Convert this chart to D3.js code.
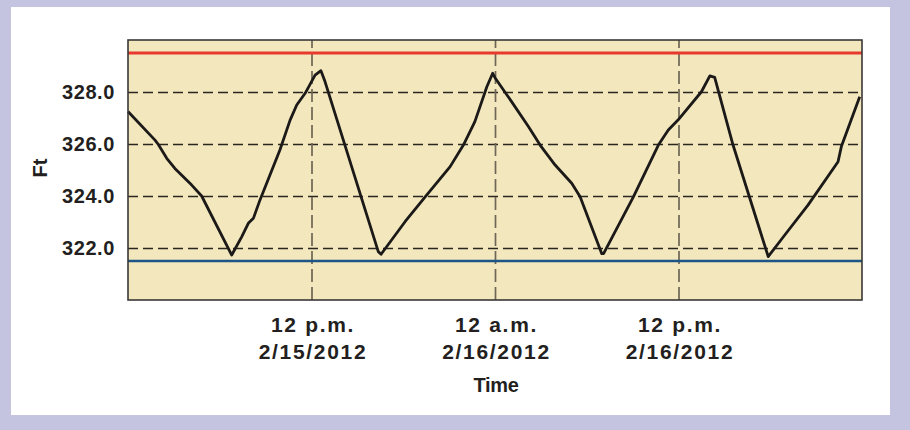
<!DOCTYPE html>
<html>
<head>
<meta charset="utf-8">
<script src="https://cdn.jsdelivr.net/npm/d3@7"></script>
<style>
  html, body { margin: 0; padding: 0; background: #c4c4e0; }
  svg { display: block; }
  .lbl { font-family: "Liberation Sans", Arial, sans-serif; font-weight: bold; fill: #231f20; }
</style>
</head>
<body>
<div id="chart"></div>
<script>
// water level readings (time, ft)
var times = [
  "2012-02-15 00:00", "2012-02-15 01:46", "2012-02-15 01:59", "2012-02-15 02:32",
  "2012-02-15 03:04", "2012-02-15 04:10", "2012-02-15 04:49", "2012-02-15 06:47",
  "2012-02-15 07:26", "2012-02-15 07:52", "2012-02-15 08:12", "2012-02-15 08:38",
  "2012-02-15 09:56", "2012-02-15 10:36", "2012-02-15 11:02", "2012-02-15 11:35",
  "2012-02-15 12:14", "2012-02-15 12:37", "2012-02-15 12:53", "2012-02-15 16:22",
  "2012-02-15 16:33", "2012-02-15 18:07", "2012-02-15 19:26", "2012-02-15 21:04",
  "2012-02-15 21:56", "2012-02-15 22:41", "2012-02-15 23:28", "2012-02-15 23:51",
  "2012-02-16 00:00", "2012-02-16 01:05", "2012-02-16 02:11", "2012-02-16 02:57",
  "2012-02-16 03:56", "2012-02-16 05:01", "2012-02-16 05:34", "2012-02-16 06:59",
  "2012-02-16 07:06", "2012-02-16 09:03", "2012-02-16 10:41", "2012-02-16 11:20",
  "2012-02-16 11:58", "2012-02-16 13:30", "2012-02-16 14:03", "2012-02-16 14:22",
  "2012-02-16 15:34", "2012-02-16 17:52", "2012-02-16 18:57", "2012-02-16 20:28",
  "2012-02-16 22:26", "2012-02-16 22:39", "2012-02-16 23:51"
];
var levels = [
  327.25, 326.15, 325.98, 325.45,
  325.06, 324.42, 324.00, 321.73,
  322.43, 322.95, 323.14, 323.85,
  325.77, 326.92, 327.50, 327.95,
  328.65, 328.82, 328.40, 321.86,
  321.76, 323.01, 323.97, 325.13,
  325.96, 326.86, 328.20, 328.72,
  328.55, 327.63, 326.67, 325.96,
  325.19, 324.49, 323.97, 321.78,
  321.78, 323.97, 325.96, 326.54,
  326.92, 328.01, 328.62, 328.56,
  325.96, 321.67, 322.50, 323.65,
  325.32, 325.90, 327.82
];

var timeRange = ["2012-02-15 00:00", "2012-02-17 00:00"];
var levelRange = [320, 330];
var upperLimit = 329.5;
var lowerLimit = 321.5;

var yTicks = [322, 324, 326, 328];
var xTicks = ["2012-02-15 12:00", "2012-02-16 00:00", "2012-02-16 12:00"];
var xTickLines = [["12 p.m.", "2/15/2012"], ["12 a.m.", "2/16/2012"], ["12 p.m.", "2/16/2012"]];

var parse = d3.timeParse("%Y-%m-%d %H:%M");

var W = 910, H = 430;
var margin = { left: 128, right: 48, top: 40, bottom: 130 };
var width = W - margin.left - margin.right;
var height = H - margin.top - margin.bottom;

var svg = d3.select("#chart").append("svg")
  .attr("width", W)
  .attr("height", H);

// white panel
svg.append("rect")
  .attr("x", 11).attr("y", 7)
  .attr("width", 879).attr("height", 408)
  .attr("fill", "#ffffff");

var g = svg.append("g")
  .attr("transform", "translate(" + margin.left + "," + margin.top + ")");

var x = d3.scaleTime()
  .domain(timeRange.map(parse))
  .range([0, width]);

var y = d3.scaleLinear()
  .domain(levelRange)
  .range([height, 0]);

// plot background
g.append("rect")
  .attr("width", width)
  .attr("height", height)
  .attr("fill", "#f3e7bd");

// horizontal grid
var yGrid = g.append("g")
  .call(d3.axisLeft(y).tickValues(yTicks).tickSize(-width).tickFormat(""));
yGrid.select(".domain").remove();
yGrid.selectAll("line")
  .attr("stroke", "#2a2620")
  .attr("stroke-width", 1.4)
  .attr("stroke-dasharray", "10,5");

// vertical grid
var xGrid = g.append("g")
  .attr("transform", "translate(0," + height + ")")
  .call(d3.axisBottom(x).tickValues(xTicks.map(parse)).tickSize(-height).tickFormat(""));
xGrid.select(".domain").remove();
xGrid.selectAll("line")
  .attr("stroke", "#6e6656")
  .attr("stroke-width", 1.7)
  .attr("stroke-dasharray", "13,5");

// limit lines
g.append("line")
  .attr("x1", 0).attr("x2", width)
  .attr("y1", y(upperLimit)).attr("y2", y(upperLimit))
  .attr("stroke", "#e8392f")
  .attr("stroke-width", 2.8);
g.append("line")
  .attr("x1", 0).attr("x2", width)
  .attr("y1", y(lowerLimit)).attr("y2", y(lowerLimit))
  .attr("stroke", "#1d5686")
  .attr("stroke-width", 2.6);

// level line
var points = times.map(function (t, i) { return { t: parse(t), v: levels[i] }; });
var line = d3.line()
  .x(function (d) { return x(d.t); })
  .y(function (d) { return y(d.v); });
g.append("path")
  .datum(points)
  .attr("d", line)
  .attr("fill", "none")
  .attr("stroke", "#1c1a18")
  .attr("stroke-width", 2.8)
  .attr("stroke-linejoin", "round");

// plot border
g.append("rect")
  .attr("width", width)
  .attr("height", height)
  .attr("fill", "none")
  .attr("stroke", "#3a3836")
  .attr("stroke-width", 1.6);

// y axis labels
var yAxis = g.append("g")
  .call(d3.axisLeft(y).tickValues(yTicks).tickSize(0).tickPadding(13).tickFormat(d3.format(".1f")));
yAxis.select(".domain").remove();
yAxis.selectAll("text")
  .attr("class", "lbl")
  .style("font-size", "20px")
  .style("letter-spacing", "0.6px");

// x axis labels, two lines each
var xAxis = g.append("g")
  .attr("transform", "translate(0," + height + ")")
  .call(d3.axisBottom(x).tickValues(xTicks.map(parse)).tickSize(0).tickFormat(""));
xAxis.select(".domain").remove();
xAxis.selectAll(".tick text").remove();
xAxis.selectAll(".tick").each(function (d, i) {
  var txt = d3.select(this).append("text")
    .attr("class", "lbl")
    .attr("text-anchor", "middle")
    .style("font-size", "21px")
    .style("letter-spacing", "1.7px");
  txt.append("tspan").attr("x", 1).attr("y", 32).text(xTickLines[i][0]);
  txt.append("tspan").attr("x", 1).attr("y", 59).text(xTickLines[i][1]);
});

// axis titles
g.append("text")
  .attr("class", "lbl")
  .attr("text-anchor", "middle")
  .attr("x", 368)
  .attr("y", height + 92)
  .style("font-size", "20px")
  .style("letter-spacing", "-0.3px")
  .text("Time");

g.append("text")
  .attr("class", "lbl")
  .attr("text-anchor", "middle")
  .attr("transform", "translate(-81," + (height / 2 - 2) + ") rotate(-90)")
  .style("font-size", "20px")
  .text("Ft");
</script>
</body>
</html>
